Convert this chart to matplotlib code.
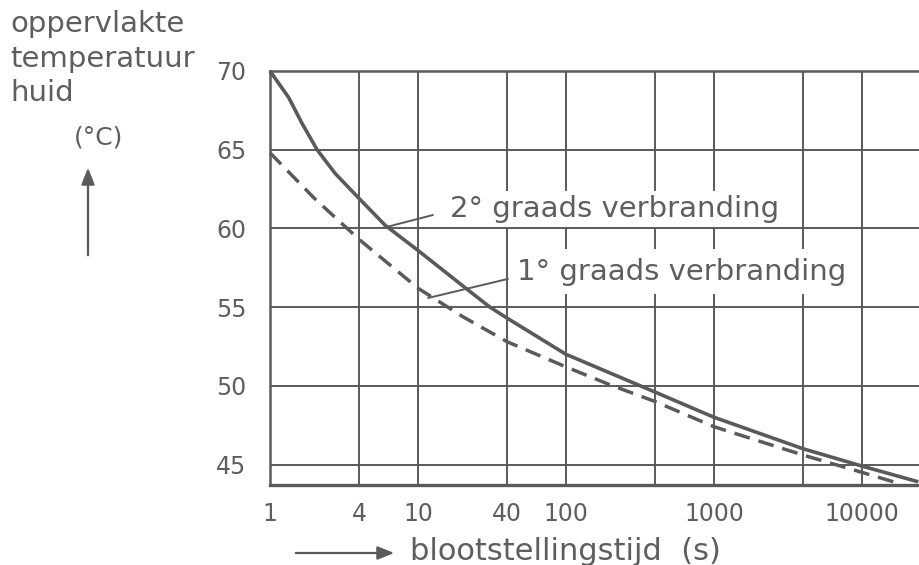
import matplotlib
matplotlib.use("Agg")
import matplotlib.pyplot as plt

# ---- data ----
t_second = [1, 1.34, 1.64, 2.08, 2.75, 4, 6, 10, 20, 30.6, 40, 100, 200, 400, 1000, 4000, 10000, 24000]
temp_second = [70.0, 68.3, 66.7, 65.0, 63.5, 61.9, 60.2, 58.6, 56.36, 55.0, 54.3, 52.0, 50.8, 49.6, 48.0, 46.0, 44.9, 43.9]

t_first = [1, 2, 4, 10, 20, 40, 100, 200, 400, 1000, 4000, 10000, 17000]
temp_first = [64.8, 61.9, 59.3, 56.2, 54.4, 52.8, 51.2, 50.05, 49.0, 47.4, 45.6, 44.5, 43.85]

x_grid = [4, 10, 40, 100, 400, 1000, 4000, 10000]
x_labels = ["4", "10", "40", "100", "", "1000", "", "10000"]
y_ticks = [45, 50, 55, 60, 65, 70]
y_labels = ["45", "50", "55", "60", "65", "70"]

label_second = "2° graads verbranding"
label_first = "1° graads verbranding"
y_title = "oppervlakte\ntemperatuur\nhuid"
y_unit = "(°C)"
x_title = "blootstellingstijd  (s)"

# ---- style ----
C = "#5a5a5a"
TC = "#5e5e5e"
plt.rcParams["font.family"] = ["DejaVu Sans"]

fig = plt.figure(figsize=(9.2, 5.65), dpi=100)
ax = fig.add_axes([270 / 920, 80 / 565, 650 / 920, 414 / 565])
ax.set_xscale("log")
ax.set_xlim(1, 10 ** (650 / 148))
ax.set_ylim(70 - 414 / 15.74, 70)

# grid
for xv in x_grid:
    ax.axvline(xv, color=C, lw=1.4, zorder=1)
for yv in y_ticks[:-1]:
    ax.axhline(yv, color=C, lw=1.4, zorder=1)

ax.spines["right"].set_visible(False)
ax.spines["left"].set_color(C)
ax.spines["left"].set_linewidth(1.8)
ax.spines["top"].set_color(C)
ax.spines["top"].set_linewidth(1.8)
ax.spines["bottom"].set_color(C)
ax.spines["bottom"].set_linewidth(2.4)

ax.set_xticks([1] + x_grid)
ax.set_xticklabels(["1"] + x_labels)
ax.xaxis.set_minor_locator(matplotlib.ticker.NullLocator())
ax.set_yticks(y_ticks)
ax.set_yticklabels(y_labels)
ax.tick_params(axis="both", length=0, labelsize=17, labelcolor=TC)
ax.tick_params(axis="x", pad=12)
ax.tick_params(axis="y", pad=17)

# curves
ax.plot(t_second, temp_second, color=C, lw=2.6, solid_capstyle="butt",
        solid_joinstyle="round", zorder=3, clip_on=False)
ax.plot(t_first, temp_first, color=C, lw=2.5, dashes=(4.6, 2.6), zorder=3, clip_on=False)

# labels on curves
ax.text(16.5, 60.72, label_second, fontsize=21, color=TC, va="baseline", ha="left",
        bbox=dict(facecolor="white", edgecolor="none", pad=3), zorder=4)
ax.text(46.7, 56.75, label_first, fontsize=21, color=TC, va="baseline", ha="left",
        bbox=dict(facecolor="white", edgecolor="none", pad=6), zorder=4)
ax.annotate("", xy=(5.8, 60.03), xytext=(12.6, 60.85),
            arrowprops=dict(arrowstyle="-", color=C, lw=1.4, shrinkA=0, shrinkB=0), zorder=4)
ax.annotate("", xy=(11.7, 55.58), xytext=(40.5, 56.79),
            arrowprops=dict(arrowstyle="-", color=C, lw=1.4, shrinkA=0, shrinkB=0), zorder=4)

# axis titles
fig.text(10 / 920, 1 - 10 / 565, y_title, fontsize=21, color=TC, ha="left", va="top", linespacing=1.3)
fig.text(99 / 920, 1 - 137 / 565, y_unit, fontsize=18, color=TC, ha="center", va="center")
fig.patches.append(matplotlib.patches.FancyArrowPatch(
    (88 / 920, 1 - 258 / 565), (88 / 920, 1 - 165 / 565), transform=fig.transFigure,
    arrowstyle="-|>,head_length=10,head_width=4", color=C, lw=1.6, mutation_scale=1))
fig.patches.append(matplotlib.patches.FancyArrowPatch(
    (293 / 920, 1 - 553 / 565), (397 / 920, 1 - 553 / 565), transform=fig.transFigure,
    arrowstyle="-|>,head_length=10,head_width=4", color=C, lw=1.6, mutation_scale=1))
fig.text(410 / 920, 1 - 560 / 565, x_title, fontsize=22, color=TC, ha="left", va="baseline")

fig.savefig("out.png", dpi=100)
